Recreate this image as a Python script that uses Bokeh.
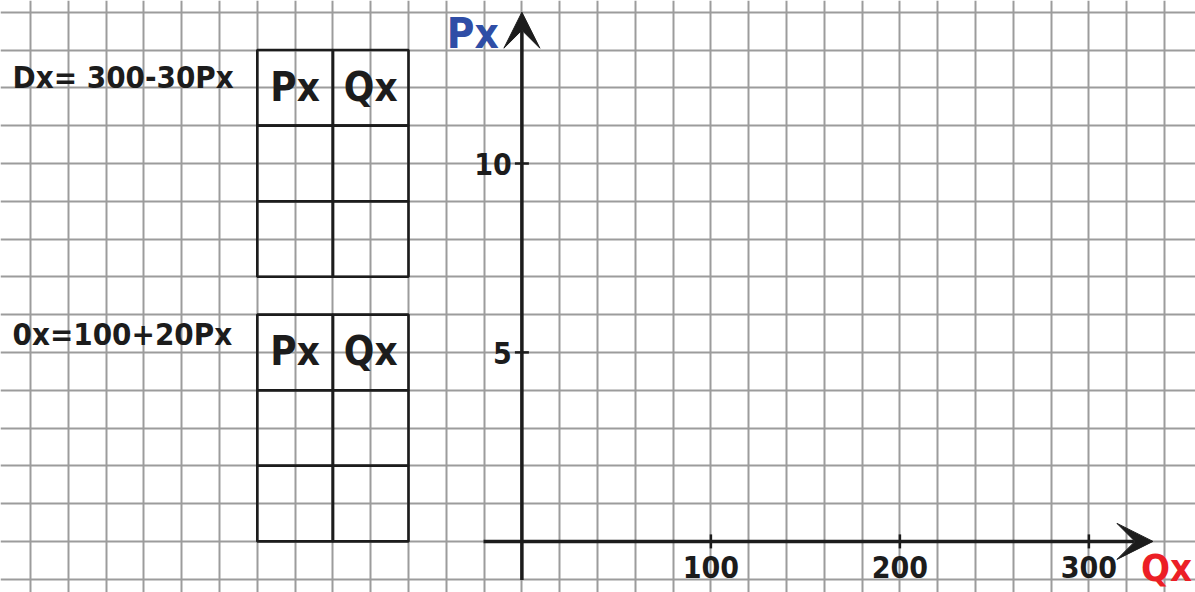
from bokeh.plotting import figure
from bokeh.models import Range1d, Grid, SingleIntervalTicker, Arrow, VeeHead
from bokeh.core.properties import value
from bokeh.embed import file_html
from bokeh.resources import INLINE
import numpy as np

# ---------------- data ----------------
equations = ["Dx= 300-30Px", "0x=100+20Px"]
table_headers = ["Px", "Qx"]
x_ticks = [100, 200, 300]
y_ticks = [5, 10]
x_label = "Qx"
y_label = "Px"

# ---------------- layout constants ----------------
W, H = 1195, 592
PX_PER_Q = 1.89      # pixels per Q unit  (one grid cell = 20 Q)
PX_PER_P = 37.8      # pixels per P unit  (one grid cell = 1 P)
ORIGIN_X, ORIGIN_Y = 521.4, 540.9   # origin position inside the figure (px)

x0 = -ORIGIN_X / PX_PER_Q
x1 = (W - ORIGIN_X) / PX_PER_Q
y0 = -(H - ORIGIN_Y) / PX_PER_P
y1 = ORIGIN_Y / PX_PER_P

FONT = value("DejaVu Sans Condensed, Roboto Condensed, Roboto")
INK = "#1c1c1c"

p = figure(width=W, height=H, x_range=Range1d(x0, x1), y_range=Range1d(y0, y1),
           x_axis_type=None, y_axis_type=None, toolbar_location=None,
           output_backend="svg", min_border=0, outline_line_color=None,
           background_fill_color="white", border_fill_color="white")

# graph-paper grid
p.add_layout(Grid(dimension=0, ticker=SingleIntervalTicker(interval=20),
                  grid_line_color="#9c9c9c", grid_line_width=2))
p.add_layout(Grid(dimension=1, ticker=SingleIntervalTicker(interval=1),
                  grid_line_color="#9c9c9c", grid_line_width=2))

# axes with arrow heads
X_START, X_TIP = -20.3, 333.9
Y_START, Y_TIP = -1.02, 14.0
p.add_layout(Arrow(x_start=X_START, y_start=0, x_end=X_TIP, y_end=0,
                   line_color=INK, line_width=3.5,
                   end=VeeHead(size=36, fill_color=INK, line_color=INK)))
p.add_layout(Arrow(x_start=0, y_start=Y_START, x_end=0, y_end=Y_TIP,
                   line_color=INK, line_width=3.5,
                   end=VeeHead(size=36, fill_color=INK, line_color=INK)))

# tick marks
p.scatter(x=x_ticks, y=[0] * len(x_ticks), marker="dash", size=14,
          angle=np.pi / 2, line_color=INK, line_width=2.5)
p.scatter(x=[0] * len(y_ticks), y=y_ticks, marker="dash", size=14,
          line_color=INK, line_width=2.5)

# tick labels
p.text(x=x_ticks, y=[0] * len(x_ticks), text=[str(t) for t in x_ticks],
       text_align="center", text_baseline="alphabetic", y_offset=26,
       text_font=FONT, text_font_style="bold", text_font_size="30px", text_color=INK)
p.text(x=[0] * len(y_ticks), y=y_ticks, text=[str(t) for t in y_ticks],
       text_align="right", text_baseline="alphabetic", x_offset=-10, y_offset=1,
       text_font=FONT, text_font_style="bold", text_font_size="30px", text_color=INK)

# axis titles
p.text(x=[0], y=[Y_TIP], text=[y_label], text_align="right", text_baseline="alphabetic",
       x_offset=-23, y_offset=21, text_font=FONT, text_font_style="bold",
       text_font_size="42px", text_color="#2f4ea6")
p.text(x=[X_TIP], y=[0], text=[x_label], text_align="left", text_baseline="alphabetic",
       x_offset=-12, y_offset=27, text_font=FONT, text_font_style="bold",
       text_font_size="38px", text_color="#ec1f26")

# equations and their tables
COLS = [-140, -100, -60]
TABLE_TOPS = [13, 6]
EQ_BASE = [12, 5]
EQ_DY = [-11, -18]
for k, eq in enumerate(equations):
    p.text(x=[-269.5], y=[EQ_BASE[k]], text=[eq], text_align="left",
           text_baseline="alphabetic", y_offset=EQ_DY[k], text_font=FONT,
           text_font_style="bold", text_font_size="31px", text_color=INK)
    top = TABLE_TOPS[k]
    lefts, rights, tops, bottoms = [], [], [], []
    for r in range(3):
        for c in range(2):
            lefts.append(COLS[c]); rights.append(COLS[c + 1])
            tops.append(top - 2 * r); bottoms.append(top - 2 * r - 2)
    p.quad(left=lefts, right=rights, top=tops, bottom=bottoms, fill_color=None,
           line_color=INK, line_width=2.6)
    centers = [(COLS[c] + COLS[c + 1]) / 2 for c in range(2)]
    p.text(x=centers, y=[top - 1] * 2, text=table_headers, text_align="center",
           text_baseline="alphabetic", y_offset=-1, text_font=FONT, text_font_style="bold",
           text_font_size="40px", text_color=INK)

open("out.html", "w").write(file_html(p, INLINE))
